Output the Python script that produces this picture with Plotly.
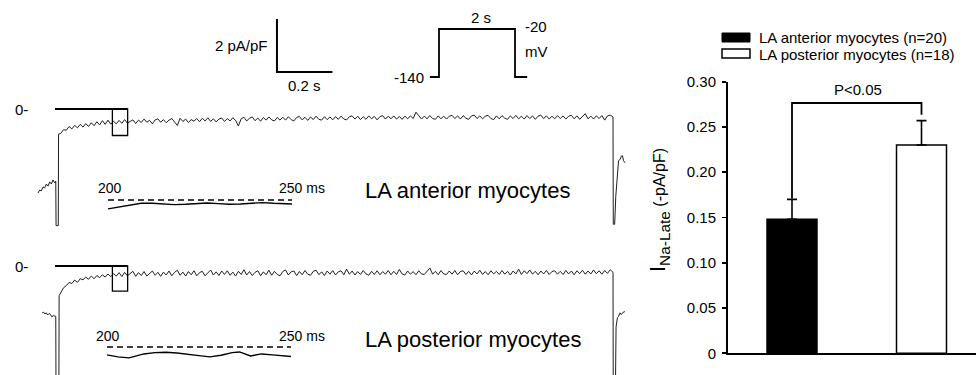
import numpy as np
import plotly.graph_objects as go

W, H = 976, 375
FONT = "Liberation Sans, Arial, sans-serif"
INK = "#000000"
TRACE = "#1e1e1e"

# ---------------- data ----------------
# sampling times (ms) during the 2-s depolarising step
step_t = np.arange(10, 2001, 10)

# LA anterior myocyte current (pA/pF)
ant_pre_t = [-72, -66, -60, -54, -48, -42, -36, -30, -24, -18, -12, -9]
ant_pre_i = [-3.17, -3.06, -3.09, -2.94, -2.98, -2.83, -2.91, -2.75, -2.83, -2.68, -2.79, -2.72]
ant_spike_t = [-8, -7, 1, 2]
ant_spike_i = [-2.72, -4.40, -4.40, -0.95]
ant_step_i = [
    -0.92, -0.78, -0.80, -0.66, -0.75, -0.62, -0.71, -0.58, -0.68, -0.55, -0.66, -0.52, -0.63, -0.48, -0.60, -0.44, -0.58, -0.42, -0.57, -0.46,
    -0.56, -0.43, -0.54, -0.40, -0.53, -0.47, -0.41, -0.55, -0.42, -0.51, -0.38, -0.50, -0.43, -0.56, -0.41, -0.37, -0.50, -0.40, -0.52, -0.42,
    -0.36, -0.49, -0.62, -0.35, -0.47, -0.38, -0.51, -0.40, -0.46, -0.36, -0.48, -0.35, -0.45, -0.33, -0.47, -0.37, -0.49, -0.38, -0.34, -0.47,
    -0.36, -0.45, -0.33, -0.43, -0.64, -0.37, -0.31, -0.45, -0.35, -0.30, -0.44, -0.34, -0.46, -0.32, -0.42, -0.30, -0.41, -0.45, -0.32, -0.42,
    -0.31, -0.42, -0.29, -0.40, -0.45, -0.32, -0.28, -0.41, -0.31, -0.43, -0.30, -0.40, -0.27, -0.39, -0.42, -0.29, -0.40, -0.30, -0.41, -0.29,
    -0.39, -0.27, -0.38, -0.41, -0.29, -0.26, -0.38, -0.27, -0.40, -0.29, -0.39, -0.26, -0.37, -0.28, -0.41, -0.29, -0.25, -0.38, -0.27, -0.37,
    -0.26, -0.38, -0.28, -0.39, -0.27, -0.37, -0.26, -0.36, -0.12, -0.25, -0.38, -0.27, -0.37, -0.25, -0.36, -0.39, -0.26, -0.37, -0.27, -0.38,
    -0.27, -0.24, -0.36, -0.26, -0.38, -0.25, -0.35, -0.39, -0.26, -0.23, -0.36, -0.26, -0.37, -0.27, -0.24, -0.36, -0.40, -0.26, -0.37, -0.25,
    -0.35, -0.39, -0.26, -0.36, -0.24, -0.37, -0.27, -0.38, -0.25, -0.36, -0.26, -0.39, -0.27, -0.23, -0.36, -0.26, -0.38, -0.27, -0.37, -0.25,
    -0.36, -0.26, -0.38, -0.27, -0.24, -0.37, -0.26, -0.39, -0.28, -0.18, -0.37, -0.27, -0.38, -0.26, -0.36, -0.25, -0.42, -0.26, -0.23, -0.30,
]
ant_tail_t = [2001, 2006, 2010, 2016, 2020, 2026, 2030, 2034, 2038, 2043]
ant_tail_i = [-4.35, -4.35, -3.30, -2.20, -1.95, -1.90, -1.78, -1.76, -1.95, -2.03]

# LA posterior myocyte current (pA/pF)
post_pre_t = [-57, -52, -47, -42, -37, -32, -27, -22, -17, -12, -9]
post_pre_i = [-1.77, -1.74, -1.81, -1.77, -1.85, -1.79, -1.83, -1.92, -1.87, -1.90, -1.90]
post_spike_t = [-8, -7, 3, 4]
post_spike_i = [-1.90, -5.50, -5.50, -1.12]
post_step_i = [
    -1.02, -0.82, -0.74, -0.62, -0.66, -0.53, -0.62, -0.48, -0.52, -0.42, -0.50, -0.38, -0.48, -0.36, -0.44, -0.33, -0.42, -0.30, -0.40, -0.29,
    -0.38, -0.25, -0.40, -0.24, -0.37, -0.27, -0.20, -0.39, -0.25, -0.36, -0.21, -0.38, -0.27, -0.19, -0.35, -0.24, -0.39, -0.23, -0.34, -0.19,
    -0.37, -0.24, -0.16, -0.35, -0.23, -0.38, -0.21, -0.33, -0.18, -0.37, -0.25, -0.20, -0.37, -0.24, -0.15, -0.34, -0.22, -0.36, -0.19, -0.32,
    -0.18, -0.35, -0.23, -0.38, -0.20, -0.32, -0.14, -0.34, -0.21, -0.36, -0.24, -0.18, -0.37, -0.22, -0.33, -0.16, -0.35, -0.20, -0.32, -0.37,
    -0.21, -0.15, -0.34, -0.22, -0.19, -0.36, -0.21, -0.33, -0.17, -0.31, -0.35, -0.20, -0.16, -0.33, -0.22, -0.36, -0.19, -0.31, -0.17, -0.34,
    -0.22, -0.18, -0.33, -0.12, -0.31, -0.19, -0.34, -0.21, -0.32, -0.17, -0.30, -0.35, -0.20, -0.32, -0.18, -0.33, -0.21, -0.31, -0.17, -0.33,
    -0.20, -0.32, -0.13, -0.30, -0.34, -0.19, -0.31, -0.21, -0.33, -0.18, -0.30, -0.32, -0.19, -0.08, -0.31, -0.20, -0.33, -0.17, -0.30, -0.32,
    -0.19, -0.31, -0.17, -0.33, -0.21, -0.18, -0.32, -0.20, -0.34, -0.19, -0.30, -0.16, -0.32, -0.21, -0.33, -0.18, -0.30, -0.20, -0.32, -0.17,
    -0.31, -0.20, -0.34, -0.19, -0.30, -0.12, -0.32, -0.18, -0.29, -0.15, -0.31, -0.20, -0.33, -0.19, -0.30, -0.17, -0.32, -0.21, -0.18, -0.31,
    -0.20, -0.32, -0.17, -0.30, -0.19, -0.33, -0.18, -0.29, -0.16, -0.31, -0.19, -0.30, -0.15, -0.29, -0.18, -0.31, -0.17, -0.28, -0.14, -0.24,
]
post_tail_t = [2001, 2008, 2011, 2016, 2020, 2025, 2030, 2036, 2043]
post_tail_i = [-5.50, -5.50, -2.30, -1.95, -1.90, -1.77, -1.83, -1.75, -1.72]

# expanded 200-250 ms windows (pA/pF, magnified)
inset_ant_t = [200, 203, 206, 209, 212, 215, 218, 221, 224, 227, 230, 233, 236, 239, 242, 245, 248, 250]
inset_ant_i = [-0.27, -0.21, -0.15, -0.10, -0.10, -0.12, -0.14, -0.13, -0.10, -0.09, -0.11, -0.13, -0.12, -0.10, -0.08, -0.10, -0.12, -0.12]
inset_post_t = [200, 203, 206, 208, 210, 213, 216, 219, 222, 225, 228, 231, 234, 236, 239, 242, 245, 248, 250]
inset_post_i = [-0.24, -0.30, -0.33, -0.27, -0.21, -0.17, -0.16, -0.18, -0.21, -0.26, -0.30, -0.25, -0.17, -0.15, -0.27, -0.21, -0.24, -0.28, -0.29]

# voltage protocol
prot_t = [-240, 0, 0, 2000, 2000, 2320]
prot_v = [-140, -140, -20, -20, -140, -140]

# summary bar chart
groups = ["LA anterior myocytes (n=20)", "LA posterior myocytes (n=18)"]
group_pos = [1, 2]
means = [0.148, 0.230]
sems = [0.022, 0.027]
bar_fill = ["#000000", "#ffffff"]
yticks = [0, 0.05, 0.10, 0.15, 0.20, 0.25, 0.30]
yticktext = ["0", "0.05", "0.10", "0.15", "0.20", "0.25", "0.30"]


# ---------------- layout helpers (pixel -> paper) ----------------
def xdom(p0, p1):
    return [p0 / W, p1 / W]


def ydom(top, bot):
    return [1 - bot / H, 1 - top / H]


# trace panels: t=0 at px 58, 0.2775 px/ms ; 26.5 px per pA/pF
T0PX, PXMS, PXI = 58.0, 0.2775, 26.5
trace_xr = [(0 - T0PX) / PXMS, (640 - T0PX) / PXMS]
top_zero, bot_zero = 109.0, 266.0
top_yr = [(top_zero - 255) / PXI, (top_zero - 0) / PXI]
bot_yr = [(bot_zero - 375) / PXI, (bot_zero - 255) / PXI]

# insets: 3.68 px/ms, 33 px per unit
IPXMS, IPXI = 3.68, 33.0


def inset_xdom(px200):
    return xdom(px200 - 2 * IPXMS, px200 + 52 * IPXMS)


def inset_ydom(pyzero):
    return ydom(pyzero - 15, pyzero + 15)


inset_yr = [-15 / IPXI, 15 / IPXI]

# protocol: t=0 at px 439, 0.038 px/ms ; v=-140 at py 77, 0.4 px/mV
prot_xr = [-400, 2500]
prot_xd = xdom(439 + prot_xr[0] * 0.038, 439 + prot_xr[1] * 0.038)
prot_yr = [-150, -10]
prot_yd = ydom(77 - (prot_yr[1] + 140) * 0.4, 77 - (prot_yr[0] + 140) * 0.4)

# bars: center 1 at px 792, 129.5 px per unit ; y 0 at 353.3, 0.30 at 81.7
bar_xr = [1 - (792 - 728) / 129.5, 1 + (976 - 792) / 129.5]

fig = go.Figure()


def add_line(x, y, xa, ya, color=TRACE, width=1.0, dash="solid"):
    fig.add_trace(go.Scatter(x=x, y=y, xaxis=xa, yaxis=ya, mode="lines",
                             line=dict(color=color, width=width, dash=dash),
                             hoverinfo="skip", showlegend=False))


# full current traces
ant_t = ant_pre_t + ant_spike_t + list(step_t) + ant_tail_t
ant_i = ant_pre_i + ant_spike_i + ant_step_i + ant_tail_i
post_t = post_pre_t + post_spike_t + list(step_t) + post_tail_t
post_i = post_pre_i + post_spike_i + post_step_i + post_tail_i

add_line(ant_t, ant_i, "x", "y", width=1.0)
add_line(post_t, post_i, "x2", "y2", width=1.0)

# zero reference lines
add_line([-11, 251], [0, 0], "x", "y", color=INK, width=2)
add_line([-11, 251], [0, 0], "x2", "y2", color=INK, width=2)

# scale bars: 2 pA/pF, 0.2 s
add_line([789, 789, 989], [3.4, 1.4, 1.4], "x", "y", color=INK, width=2)

# insets
add_line([200, 250], [0, 0], "x3", "y3", color=INK, width=1.6, dash="6px,4px")
add_line(inset_ant_t, inset_ant_i, "x3", "y3", color=INK, width=1.4)
add_line([200, 250], [0, 0], "x4", "y4", color=INK, width=1.6, dash="6px,4px")
add_line(inset_post_t, inset_post_i, "x4", "y4", color=INK, width=1.4)

# protocol
add_line(prot_t, prot_v, "x5", "y5", color=INK, width=1.8)

# bars
fig.add_trace(go.Bar(
    x=group_pos, y=means, xaxis="x6", yaxis="y6", width=0.386,
    marker=dict(color=bar_fill, line=dict(color=INK, width=1.5)),
    error_y=dict(type="data", symmetric=False, array=sems, arrayminus=[0, 0],
                 color=INK, thickness=1.6, width=5),
    hoverinfo="skip", showlegend=False))
# significance bracket
add_line([1, 1, 2, 2], [0.171, 0.2765, 0.2765, 0.2635], "x6", "y6", color=INK, width=1.8)

hidden = dict(visible=False, fixedrange=True, automargin=False)
fig.update_layout(
    width=W, height=H, autosize=False,
    margin=dict(l=0, r=0, t=0, b=0, pad=0, autoexpand=False),
    paper_bgcolor="white", plot_bgcolor="rgba(0,0,0,0)",
    font=dict(family=FONT, size=15, color=INK),
    showlegend=False,
    xaxis=dict(domain=xdom(0, 640), range=trace_xr, anchor="y", **hidden),
    yaxis=dict(domain=ydom(0, 255), range=top_yr, anchor="x", **hidden),
    xaxis2=dict(domain=xdom(0, 640), range=trace_xr, anchor="y2", **hidden),
    yaxis2=dict(domain=ydom(255, 375), range=bot_yr, anchor="x2", **hidden),
    xaxis3=dict(domain=inset_xdom(108), range=[198, 252], anchor="y3", **hidden),
    yaxis3=dict(domain=inset_ydom(200), range=inset_yr, anchor="x3", **hidden),
    xaxis4=dict(domain=inset_xdom(107), range=[198, 252], anchor="y4", **hidden),
    yaxis4=dict(domain=inset_ydom(347), range=inset_yr, anchor="x4", **hidden),
    xaxis5=dict(domain=prot_xd, range=prot_xr, anchor="y5", **hidden),
    yaxis5=dict(domain=prot_yd, range=prot_yr, anchor="x5", **hidden),
    xaxis6=dict(domain=xdom(728, 976), range=bar_xr, anchor="y6",
                showline=True, linecolor=INK, linewidth=2, showgrid=False,
                zeroline=False, showticklabels=False, ticks="", fixedrange=True,
                automargin=False),
    yaxis6=dict(domain=ydom(81.7, 353.3), range=[0, 0.30], anchor="x6",
                showline=True, linecolor=INK, linewidth=2, showgrid=False,
                zeroline=False, ticks="outside", ticklen=4, tickwidth=1.6,
                tickcolor=INK, tickvals=yticks, ticktext=yticktext,
                tickfont=dict(size=15, family=FONT), ticklabelstandoff=3,
                fixedrange=True, automargin=False),
)

shapes = [
    dict(type="rect", xref="x", yref="y", x0=196, x1=251, y0=0, y1=-1.0,
         line=dict(color=INK, width=1.3)),
    dict(type="rect", xref="x2", yref="y2", x0=196, x1=251, y0=0, y1=-0.95,
         line=dict(color=INK, width=1.3)),
    # legend swatches
    dict(type="rect", xref="paper", yref="paper", x0=722 / W, x1=750 / W,
         y0=1 - 42 / H, y1=1 - 33 / H, fillcolor=INK, line=dict(color=INK, width=1)),
    dict(type="rect", xref="paper", yref="paper", x0=722 / W, x1=750 / W,
         y0=1 - 58 / H, y1=1 - 49 / H, fillcolor="white", line=dict(color=INK, width=1.5)),
]
fig.update_layout(shapes=shapes)


def ann(text, x, y, xref, yref, xanchor="center", yanchor="middle", size=15,
        xshift=0, yshift=0, angle=0):
    fig.add_annotation(text=text, x=x, y=y, xref=xref, yref=yref,
                       xanchor=xanchor, yanchor=yanchor, showarrow=False,
                       font=dict(size=size, family=FONT, color=INK),
                       xshift=xshift, yshift=yshift, textangle=angle)


# trace panel labels
ann("0-", -100, 0, "x", "y", xanchor="right")
ann("0-", -100, 0, "x2", "y2", xanchor="right")
ann("2 pA/pF", 789, 2.4, "x", "y", xanchor="right", xshift=-7)
ann("0.2 s", 889, 1.4, "x", "y", yanchor="top", yshift=-3)
ann("LA anterior myocytes", 1106, -3.06, "x", "y", xanchor="left", size=22, xshift=-2)
ann("LA posterior myocytes", 1106, -2.79, "x2", "y2", xanchor="left", size=22, xshift=-2)
ann("200", 200, 0, "x3", "y3", yanchor="bottom", size=14, xshift=2, yshift=2)
ann("250 ms", 250, 0, "x3", "y3", xanchor="left", yanchor="bottom", size=14, xshift=-15, yshift=2)
ann("200", 200, 0, "x4", "y4", yanchor="bottom", size=14, xshift=1, yshift=1)
ann("250 ms", 250, 0, "x4", "y4", xanchor="left", yanchor="bottom", size=14, xshift=-14, yshift=1)

# protocol labels
ann("-140", -240, -140, "x5", "y5", xanchor="right", xshift=-4)
ann("2 s", 1000, -20, "x5", "y5", yanchor="bottom", xshift=4, yshift=1)
ann("-20", 2000, -20, "x5", "y5", xanchor="left", xshift=8, yshift=2)
ann("mV", 2000, -20, "x5", "y5", xanchor="left", xshift=8, yshift=-23)

# bar chart labels
ann("P<0.05", 1.5, 0.2765, "x6", "y6", yanchor="bottom", xshift=1, yshift=3)
ann(groups[0], 757 / W, 1 - 38 / H, "paper", "paper", xanchor="left")
ann(groups[1], 757 / W, 1 - 54 / H, "paper", "paper", xanchor="left")
ann("I<sub>Na-Late</sub><span style='font-size:16px'> (-pA/pF)</span>",
    659 / W, 1 - 210 / H, "paper", "paper", size=22, angle=-90)

fig.write_html(
    "out.html",
    config={"displayModeBar": False, "staticPlot": True},
    post_script="document.body.style.margin='0';document.body.style.overflow='hidden';",
)
